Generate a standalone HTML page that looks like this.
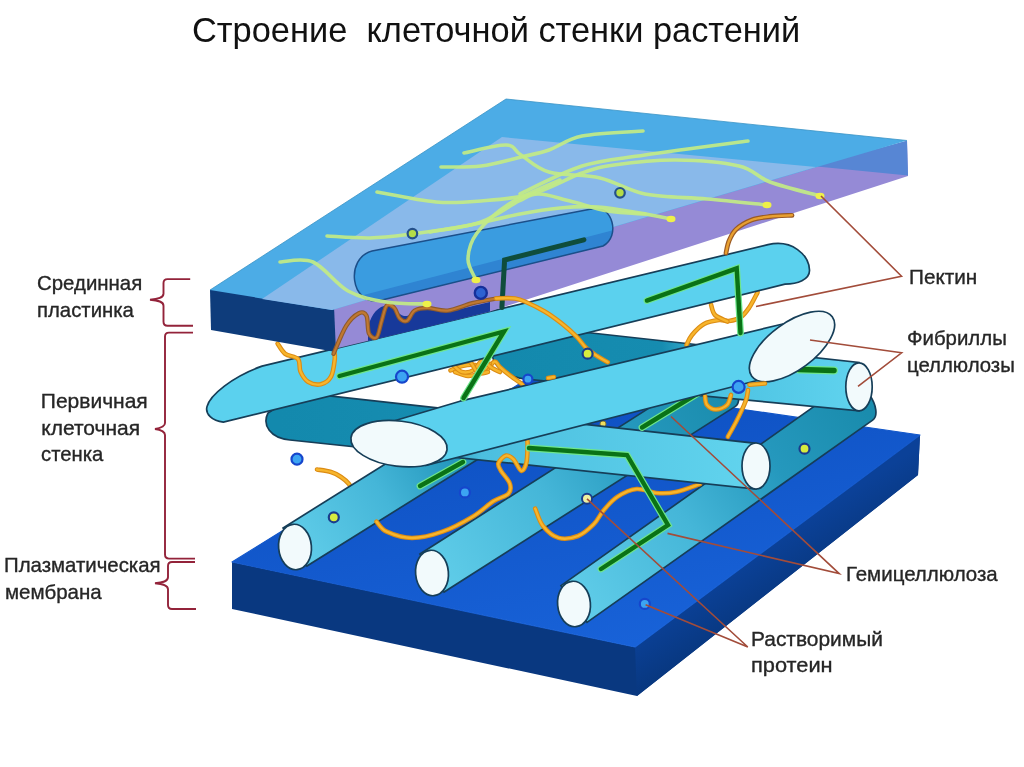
<!DOCTYPE html>
<html><head><meta charset="utf-8"><style>
html,body{margin:0;padding:0;background:#fff;}
body{width:1024px;height:767px;overflow:hidden;position:relative;font-family:"Liberation Sans",sans-serif;}
.t{position:absolute;white-space:pre;color:#262626;font-size:20px;line-height:26px;transform-origin:0 0;-webkit-text-stroke:0.35px #262626;}
svg{position:absolute;left:0;top:0;filter:blur(0.6px);}
.t{filter:blur(0.3px);}
</style></head><body>
<svg width="1024" height="767" viewBox="0 0 1024 767">
<defs><linearGradient id="gfr" gradientUnits="userSpaceOnUse" x1="770" y1="545" x2="800" y2="590"><stop offset="0" stop-color="#0b4198"/><stop offset="1" stop-color="#08377e"/></linearGradient>
<linearGradient id="gslab" gradientUnits="userSpaceOnUse" x1="600" y1="650" x2="560" y2="420"><stop offset="0" stop-color="#1862d8"/><stop offset="1" stop-color="#0f52c4"/></linearGradient>
<linearGradient id="gb0" gradientUnits="userSpaceOnUse" x1="0" y1="0" x2="350" y2="0"><stop offset="0" stop-color="#60cde9"/><stop offset="0.4" stop-color="#45b6d8"/><stop offset="0.7" stop-color="#2598bd"/><stop offset="1" stop-color="#1a8cad"/></linearGradient>
<linearGradient id="gb1" gradientUnits="userSpaceOnUse" x1="0" y1="0" x2="345" y2="0"><stop offset="0" stop-color="#60cde9"/><stop offset="0.4" stop-color="#45b6d8"/><stop offset="0.7" stop-color="#2598bd"/><stop offset="1" stop-color="#1a8cad"/></linearGradient>
<linearGradient id="gb2" gradientUnits="userSpaceOnUse" x1="0" y1="0" x2="255" y2="0"><stop offset="0" stop-color="#60cde9"/><stop offset="0.4" stop-color="#45b6d8"/><stop offset="0.7" stop-color="#2598bd"/><stop offset="1" stop-color="#1a8cad"/></linearGradient>
<linearGradient id="gF" gradientUnits="userSpaceOnUse" x1="500" y1="0" x2="860" y2="0"><stop offset="0" stop-color="#1389ad"/><stop offset="0.45" stop-color="#168cb0"/><stop offset="0.6" stop-color="#4cc2e2"/><stop offset="1" stop-color="#60d3ee"/></linearGradient>
<linearGradient id="gH" gradientUnits="userSpaceOnUse" x1="280" y1="0" x2="760" y2="0"><stop offset="0" stop-color="#1389ad"/><stop offset="0.3" stop-color="#168cb0"/><stop offset="0.42" stop-color="#4cbfdf"/><stop offset="1" stop-color="#62d4ee"/></linearGradient>
<clipPath id="capclip"><path d="M372,251 L594,208.5 C612,205 621,236 603,246 L380,300.5 C350,306 345,258 372,251 Z"/></clipPath></defs>
<polygon points="232.0,562.0 635.0,647.0 920.0,435.0 918.0,475.0 637.0,696.0 232.0,609.0" fill="#093880" />
<polygon points="635.0,647.0 920.0,435.0 918.0,475.0 637.0,696.0" fill="url(#gfr)" />
<polygon points="232.0,562.0 528.0,378.5 920.0,435.0 635.0,647.0" fill="url(#gslab)" stroke="url(#gslab)" stroke-width="1.2" stroke-linejoin="round"/>
<circle cx="297" cy="459.2" r="5.5" fill="#3ca4f2" stroke="#1646cc" stroke-width="2.2"/>
<path d="M317.0,469.5 C319.3,469.9 327.0,470.8 331.0,472.0 C335.0,473.2 338.0,475.0 341.0,477.0 C344.0,479.0 347.2,481.8 349.0,484.0 C350.8,486.2 351.5,489.0 352.0,490.0" fill="none" stroke="#dc8c14" stroke-width="4.6" stroke-linecap="round" stroke-linejoin="round" opacity="1"/>
<path d="M317.0,469.5 C319.3,469.9 327.0,470.8 331.0,472.0 C335.0,473.2 338.0,475.0 341.0,477.0 C344.0,479.0 347.2,481.8 349.0,484.0 C350.8,486.2 351.5,489.0 352.0,490.0" fill="none" stroke="#f7b52c" stroke-width="2.3999999999999995" stroke-linecap="round" stroke-linejoin="round" opacity="1"/>
<path d="M0,-22.5 L350,-22.5 A12,22.5 0 0 1 350,22.5 L0,22.5 Z" transform="translate(574,604) rotate(-35.3)" fill="url(#gb0)" stroke="#163e58" stroke-width="1.7"/>
<ellipse cx="574" cy="604" rx="16.4" ry="22.8" transform="rotate(-5 574 604)" fill="#f2fafc" stroke="#163e58" stroke-width="1.7"/>
<path d="M0,-22.5 L345,-22.5 A12,22.5 0 0 1 345,22.5 L0,22.5 Z" transform="translate(432,573) rotate(-32.5)" fill="url(#gb1)" stroke="#163e58" stroke-width="1.7"/>
<ellipse cx="432" cy="573" rx="16.4" ry="22.8" transform="rotate(-5 432 573)" fill="#f2fafc" stroke="#163e58" stroke-width="1.7"/>
<path d="M0,-22.5 L255,-22.5 A12,22.5 0 0 1 255,22.5 L0,22.5 Z" transform="translate(295,547) rotate(-32)" fill="url(#gb2)" stroke="#163e58" stroke-width="1.7"/>
<ellipse cx="295" cy="547" rx="16.4" ry="22.8" transform="rotate(-5 295 547)" fill="#f2fafc" stroke="#163e58" stroke-width="1.7"/>
<path d="M420.0,486.0 L463.0,462.0" fill="none" stroke="#6ee68c" stroke-width="6.800000000000001" stroke-linecap="round" stroke-linejoin="miter"/>
<path d="M420.0,486.0 L463.0,462.0" fill="none" stroke="#0a7216" stroke-width="4.4" stroke-linecap="round" stroke-linejoin="miter"/>
<path d="M535.2,508.6 C536.5,511.5 539.1,521.1 543.0,526.0 C546.9,530.9 552.8,536.2 558.6,537.9 C564.4,539.6 572.1,538.3 578.0,536.0 C583.9,533.7 589.5,528.5 593.8,524.2 C598.0,520.0 599.6,515.0 603.5,510.5 C607.4,505.9 611.7,500.5 617.2,496.9 C622.7,493.3 630.2,489.6 636.7,489.0 C643.2,488.4 649.7,492.5 656.2,493.0 C662.8,493.5 668.5,493.5 675.8,492.0 C683.1,490.5 696.0,485.3 700.0,484.0" fill="none" stroke="#dc8c14" stroke-width="4.6" stroke-linecap="round" stroke-linejoin="round" opacity="1"/>
<path d="M535.2,508.6 C536.5,511.5 539.1,521.1 543.0,526.0 C546.9,530.9 552.8,536.2 558.6,537.9 C564.4,539.6 572.1,538.3 578.0,536.0 C583.9,533.7 589.5,528.5 593.8,524.2 C598.0,520.0 599.6,515.0 603.5,510.5 C607.4,505.9 611.7,500.5 617.2,496.9 C622.7,493.3 630.2,489.6 636.7,489.0 C643.2,488.4 649.7,492.5 656.2,493.0 C662.8,493.5 668.5,493.5 675.8,492.0 C683.1,490.5 696.0,485.3 700.0,484.0" fill="none" stroke="#f7b52c" stroke-width="2.3999999999999995" stroke-linecap="round" stroke-linejoin="round" opacity="1"/>
<circle cx="333.8" cy="517.3" r="5" fill="#d6ec3e" stroke="#1a3c8c" stroke-width="2.2"/>
<circle cx="464.9" cy="492.4" r="5" fill="#3ca4f2" stroke="#1646cc" stroke-width="2.2"/>
<circle cx="587" cy="498.8" r="5" fill="#eef0a0" stroke="#1a3c8c" stroke-width="2"/>
<circle cx="644.8" cy="603.9" r="5" fill="#3ca4f2" stroke="#1646cc" stroke-width="2.2"/>
<circle cx="804.5" cy="448.7" r="5" fill="#d6ec3e" stroke="#1a3c8c" stroke-width="2.2"/>
<circle cx="603" cy="424" r="3" fill="#f0e060" stroke="#8a7a30" stroke-width="1"/>
<path d="M510,324 L859,362.5 L859,410.8 L525,379 C505,376 492,366 492,352 C492,338 498,325 510,324 Z" fill="url(#gF)" stroke="#163e58" stroke-width="1.7"/>
<ellipse cx="859" cy="386.8" rx="13.2" ry="24" fill="#f2fafc" stroke="#163e58" stroke-width="1.7"/>
<path d="M799.0,369.5 L834.0,370.5" fill="none" stroke="#6ee68c" stroke-width="7.9" stroke-linecap="round" stroke-linejoin="miter"/>
<path d="M799.0,369.5 L834.0,370.5" fill="none" stroke="#0a7216" stroke-width="5.5" stroke-linecap="round" stroke-linejoin="miter"/>
<path d="M300,392.7 L756,443.3 L756,489 L290,440 C270,438 262,425 268,413 Z" fill="url(#gH)" stroke="#163e58" stroke-width="1.7"/>
<ellipse cx="756" cy="466" rx="14" ry="23" fill="#f2fafc" stroke="#163e58" stroke-width="1.7"/>
<path d="M376.5,521.6 C378.2,523.3 380.8,529.0 386.7,531.7 C392.6,534.4 402.7,538.0 412.0,538.0 C421.3,538.0 432.3,535.3 442.5,531.7 C452.7,528.1 464.5,521.6 473.0,516.5 C481.5,511.4 487.4,505.1 493.3,501.3 C499.2,497.5 505.8,496.6 508.5,493.6 C511.2,490.6 511.1,487.3 509.8,483.5 C508.6,479.7 502.9,474.2 501.0,470.8 C499.1,467.4 497.6,465.7 498.4,463.2 C499.2,460.7 503.5,456.2 506.0,455.6 C508.5,455.0 511.1,456.9 513.6,459.4 C516.1,461.9 519.1,470.2 521.2,470.8 C523.3,471.4 525.2,467.4 526.3,463.2 C527.4,459.0 527.5,449.6 527.6,445.4 C527.7,441.2 527.1,439.2 527.0,438.0" fill="none" stroke="#dc8c14" stroke-width="4.6" stroke-linecap="round" stroke-linejoin="round" opacity="1"/>
<path d="M376.5,521.6 C378.2,523.3 380.8,529.0 386.7,531.7 C392.6,534.4 402.7,538.0 412.0,538.0 C421.3,538.0 432.3,535.3 442.5,531.7 C452.7,528.1 464.5,521.6 473.0,516.5 C481.5,511.4 487.4,505.1 493.3,501.3 C499.2,497.5 505.8,496.6 508.5,493.6 C511.2,490.6 511.1,487.3 509.8,483.5 C508.6,479.7 502.9,474.2 501.0,470.8 C499.1,467.4 497.6,465.7 498.4,463.2 C499.2,460.7 503.5,456.2 506.0,455.6 C508.5,455.0 511.1,456.9 513.6,459.4 C516.1,461.9 519.1,470.2 521.2,470.8 C523.3,471.4 525.2,467.4 526.3,463.2 C527.4,459.0 527.5,449.6 527.6,445.4 C527.7,441.2 527.1,439.2 527.0,438.0" fill="none" stroke="#f7b52c" stroke-width="2.3999999999999995" stroke-linecap="round" stroke-linejoin="round" opacity="1"/>
<path d="M529.0,448.0 L627.0,455.0 L668.0,525.0 L601.0,569.0" fill="none" stroke="#6ee68c" stroke-width="6.800000000000001" stroke-linecap="round" stroke-linejoin="miter"/>
<path d="M529.0,448.0 L627.0,455.0 L668.0,525.0 L601.0,569.0" fill="none" stroke="#0a7216" stroke-width="4.4" stroke-linecap="round" stroke-linejoin="miter"/>
<path d="M642.0,427.5 L700.0,392.0" fill="none" stroke="#6ee68c" stroke-width="6.800000000000001" stroke-linecap="round" stroke-linejoin="miter"/>
<path d="M642.0,427.5 L700.0,392.0" fill="none" stroke="#0a7216" stroke-width="4.4" stroke-linecap="round" stroke-linejoin="miter"/>
<path d="M727.8,436.8 C729.2,434.3 733.0,427.9 736.0,422.0 C739.0,416.1 743.6,406.5 745.6,401.2 C747.6,395.9 747.6,391.9 748.0,390.0" fill="none" stroke="#dc8c14" stroke-width="4.6" stroke-linecap="round" stroke-linejoin="round" opacity="1"/>
<path d="M727.8,436.8 C729.2,434.3 733.0,427.9 736.0,422.0 C739.0,416.1 743.6,406.5 745.6,401.2 C747.6,395.9 747.6,391.9 748.0,390.0" fill="none" stroke="#f7b52c" stroke-width="2.3999999999999995" stroke-linecap="round" stroke-linejoin="round" opacity="1"/>
<path d="M705.0,396.0 C705.3,397.5 705.2,402.8 707.0,405.0 C708.8,407.2 712.7,409.5 716.0,409.5 C719.3,409.5 724.5,407.4 727.0,405.0 C729.5,402.6 730.3,396.7 731.0,395.0" fill="none" stroke="#dc8c14" stroke-width="4.6" stroke-linecap="round" stroke-linejoin="round" opacity="1"/>
<path d="M705.0,396.0 C705.3,397.5 705.2,402.8 707.0,405.0 C708.8,407.2 712.7,409.5 716.0,409.5 C719.3,409.5 724.5,407.4 727.0,405.0 C729.5,402.6 730.3,396.7 731.0,395.0" fill="none" stroke="#f7b52c" stroke-width="2.3999999999999995" stroke-linecap="round" stroke-linejoin="round" opacity="1"/>
<path d="M450.5,370.4 C452.4,369.7 457.9,366.9 462.0,366.0 C466.1,365.1 471.0,364.3 475.0,365.0 C479.0,365.7 482.8,370.6 486.0,370.0 C489.2,369.4 492.2,362.1 494.5,361.6 C496.8,361.1 497.2,364.6 499.8,367.0 C502.4,369.4 506.5,372.8 510.3,375.7 C514.1,378.6 520.6,383.0 522.6,384.5" fill="none" stroke="#dc8c14" stroke-width="4.6" stroke-linecap="round" stroke-linejoin="round" opacity="1"/>
<path d="M450.5,370.4 C452.4,369.7 457.9,366.9 462.0,366.0 C466.1,365.1 471.0,364.3 475.0,365.0 C479.0,365.7 482.8,370.6 486.0,370.0 C489.2,369.4 492.2,362.1 494.5,361.6 C496.8,361.1 497.2,364.6 499.8,367.0 C502.4,369.4 506.5,372.8 510.3,375.7 C514.1,378.6 520.6,383.0 522.6,384.5" fill="none" stroke="#f7b52c" stroke-width="2.3999999999999995" stroke-linecap="round" stroke-linejoin="round" opacity="1"/>
<path d="M455.0,372.0 C457.2,372.7 463.8,375.8 468.0,376.0 C472.2,376.2 476.3,375.0 480.0,373.0 C483.7,371.0 488.3,365.5 490.0,364.0" fill="none" stroke="#dc8c14" stroke-width="4.6" stroke-linecap="round" stroke-linejoin="round" opacity="1"/>
<path d="M455.0,372.0 C457.2,372.7 463.8,375.8 468.0,376.0 C472.2,376.2 476.3,375.0 480.0,373.0 C483.7,371.0 488.3,365.5 490.0,364.0" fill="none" stroke="#f7b52c" stroke-width="2.3999999999999995" stroke-linecap="round" stroke-linejoin="round" opacity="1"/>
<path d="M452.0,364.0 C453.7,365.3 458.3,371.0 462.0,372.0 C465.7,373.0 470.7,371.8 474.0,370.0 C477.3,368.2 479.0,361.3 482.0,361.0 C485.0,360.7 489.0,366.2 492.0,368.0 C495.0,369.8 498.7,371.3 500.0,372.0" fill="none" stroke="#dc8c14" stroke-width="4.6" stroke-linecap="round" stroke-linejoin="round" opacity="1"/>
<path d="M452.0,364.0 C453.7,365.3 458.3,371.0 462.0,372.0 C465.7,373.0 470.7,371.8 474.0,370.0 C477.3,368.2 479.0,361.3 482.0,361.0 C485.0,360.7 489.0,366.2 492.0,368.0 C495.0,369.8 498.7,371.3 500.0,372.0" fill="none" stroke="#f7b52c" stroke-width="2.3999999999999995" stroke-linecap="round" stroke-linejoin="round" opacity="1"/>
<path d="M458.0,360.0 C460.0,360.3 466.7,359.8 470.0,362.0 C473.3,364.2 475.0,371.3 478.0,373.0 C481.0,374.7 486.3,372.2 488.0,372.0" fill="none" stroke="#dc8c14" stroke-width="4.6" stroke-linecap="round" stroke-linejoin="round" opacity="1"/>
<path d="M458.0,360.0 C460.0,360.3 466.7,359.8 470.0,362.0 C473.3,364.2 475.0,371.3 478.0,373.0 C481.0,374.7 486.3,372.2 488.0,372.0" fill="none" stroke="#f7b52c" stroke-width="2.3999999999999995" stroke-linecap="round" stroke-linejoin="round" opacity="1"/>
<path d="M757.6,292.3 C756.2,294.8 752.2,303.2 749.4,307.3 C746.6,311.4 744.4,314.7 741.0,317.0 C737.6,319.3 732.7,320.5 729.0,321.0 C725.3,321.5 723.2,319.5 719.0,320.0 C714.8,320.5 708.5,321.5 704.0,324.0 C699.5,326.5 694.9,331.5 692.0,335.0 C689.1,338.5 687.4,343.3 686.5,345.0" fill="none" stroke="#dc8c14" stroke-width="4.6" stroke-linecap="round" stroke-linejoin="round" opacity="1"/>
<path d="M757.6,292.3 C756.2,294.8 752.2,303.2 749.4,307.3 C746.6,311.4 744.4,314.7 741.0,317.0 C737.6,319.3 732.7,320.5 729.0,321.0 C725.3,321.5 723.2,319.5 719.0,320.0 C714.8,320.5 708.5,321.5 704.0,324.0 C699.5,326.5 694.9,331.5 692.0,335.0 C689.1,338.5 687.4,343.3 686.5,345.0" fill="none" stroke="#f7b52c" stroke-width="2.3999999999999995" stroke-linecap="round" stroke-linejoin="round" opacity="1"/>
<path d="M711.0,304.6 C711.7,306.3 712.2,312.2 715.0,315.0 C717.8,317.8 725.4,320.4 727.5,321.5" fill="none" stroke="#dc8c14" stroke-width="4.6" stroke-linecap="round" stroke-linejoin="round" opacity="1"/>
<path d="M711.0,304.6 C711.7,306.3 712.2,312.2 715.0,315.0 C717.8,317.8 725.4,320.4 727.5,321.5" fill="none" stroke="#f7b52c" stroke-width="2.3999999999999995" stroke-linecap="round" stroke-linejoin="round" opacity="1"/>
<polygon points="399.0,443.7 392.0,421.5 460.0,401.2 782.8,324.0 792.0,346.5 760.0,379.7 425.8,465.5" fill="#5bd1ee" stroke="#163e58" stroke-width="1.7" stroke-linejoin="round"/>
<ellipse cx="399" cy="443.7" rx="48.4" ry="22.6" transform="rotate(7 399 443.7)" fill="#f2fafc" stroke="#163e58" stroke-width="1.7"/>
<ellipse cx="792" cy="346.5" rx="50" ry="23.5" transform="rotate(-36.4 792 346.5)" fill="#f2fafc" stroke="#163e58" stroke-width="1.7"/>
<path d="M749.5,384.8 L765.0,383.5" fill="none" stroke="#dc8c14" stroke-width="4.6" stroke-linecap="round" stroke-linejoin="round" opacity="1"/>
<path d="M749.5,384.8 L765.0,383.5" fill="none" stroke="#f7b52c" stroke-width="2.3999999999999995" stroke-linecap="round" stroke-linejoin="round" opacity="1"/>
<circle cx="738.6" cy="386.9" r="6" fill="#3ca4f2" stroke="#1646cc" stroke-width="2.2"/>
<path d="M262,366.1 L768,244.7 C792,239 809,255 809.5,270 C810,280 797,284 785,284.2 L223.4,422.2 C212,421 205,414 207,406.6 C210,395 232,377 262,366.1 Z" fill="#5bd1ee" stroke="#163e58" stroke-width="1.7"/>
<path d="M277.6,343.6 C278.9,345.3 281.8,351.2 285.2,353.8 C288.6,356.4 295.4,356.0 298.0,359.0 C300.6,362.0 298.8,367.8 300.5,371.6 C302.2,375.4 304.6,379.6 308.0,381.7 C311.4,383.8 317.0,385.1 320.8,384.3 C324.6,383.5 328.7,380.9 331.0,376.7 C333.3,372.5 334.3,363.3 334.8,358.9 C335.3,354.4 334.1,351.5 334.0,350.0" fill="none" stroke="#dc8c14" stroke-width="4.6" stroke-linecap="round" stroke-linejoin="round" opacity="1"/>
<path d="M277.6,343.6 C278.9,345.3 281.8,351.2 285.2,353.8 C288.6,356.4 295.4,356.0 298.0,359.0 C300.6,362.0 298.8,367.8 300.5,371.6 C302.2,375.4 304.6,379.6 308.0,381.7 C311.4,383.8 317.0,385.1 320.8,384.3 C324.6,383.5 328.7,380.9 331.0,376.7 C333.3,372.5 334.3,363.3 334.8,358.9 C335.3,354.4 334.1,351.5 334.0,350.0" fill="none" stroke="#f7b52c" stroke-width="2.3999999999999995" stroke-linecap="round" stroke-linejoin="round" opacity="1"/>
<path d="M339.5,376.0 L504.0,331.5 L463.5,398.0" fill="none" stroke="#6ee68c" stroke-width="6.800000000000001" stroke-linecap="round" stroke-linejoin="miter"/>
<path d="M339.5,376.0 L504.0,331.5 L463.5,398.0" fill="none" stroke="#0a7216" stroke-width="4.4" stroke-linecap="round" stroke-linejoin="miter"/>
<path d="M646.9,300.6 L736.7,268.4 L740.5,333.0" fill="none" stroke="#6ee68c" stroke-width="6.800000000000001" stroke-linecap="round" stroke-linejoin="miter"/>
<path d="M646.9,300.6 L736.7,268.4 L740.5,333.0" fill="none" stroke="#0a7216" stroke-width="4.4" stroke-linecap="round" stroke-linejoin="miter"/>
<circle cx="402" cy="376.7" r="6" fill="#3ca4f2" stroke="#1646cc" stroke-width="2.2"/>
<circle cx="527.9" cy="379.2" r="4.5" fill="#3ca4f2" stroke="#1646cc" stroke-width="2.2"/>
<path d="M548.0,378.0 L554.0,377.0" fill="none" stroke="#dc8c14" stroke-width="4.6" stroke-linecap="round" stroke-linejoin="round" opacity="1"/>
<path d="M548.0,378.0 L554.0,377.0" fill="none" stroke="#f7b52c" stroke-width="2.3999999999999995" stroke-linecap="round" stroke-linejoin="round" opacity="1"/>
<polygon points="328.0,306.0 907.0,140.7 908.0,176.0 490.0,311.4 336.0,348.4 333.0,351.0" fill="#958ad6" />
<polygon points="812.0,166.0 907.0,140.7 908.0,175.5" fill="#5786d4" />
<polygon points="210.0,290.0 216.0,288.0 334.0,306.5 336.0,352.0 211.0,330.0" fill="#0e3c7b" />
<polygon points="210.0,290.0 506.0,99.0 907.0,140.5 332.0,310.0" fill="#4cace6" />
<polygon points="502.0,137.0 816.0,167.0 332.0,310.0 262.0,299.0" fill="#89b9ea" />
<path d="M210,290 L506,99 L907,140.5" fill="none" stroke="#3a93c6" stroke-width="1" opacity="0.8"/>
<path d="M372,251 L594,208.5 C612,205 621,236 603,246 L380,300.5 C350,306 345,258 372,251 Z" fill="#3a9ce0"/>
<polygon points="340,301 620,228.5 620,280 340,340" fill="#2f84d2" clip-path="url(#capclip)"/>
<path d="M372,251 L594,208.5 C612,205 621,236 603,246 L380,300.5 C350,306 345,258 372,251 Z" fill="none" stroke="#1b4f8a" stroke-width="1.5"/>
<path d="M501.9,307.5 L504.6,260.0 L583.9,239.8" fill="none" stroke="#0f4d3c" stroke-width="5" stroke-linecap="round" stroke-linejoin="miter"/>
<path d="M368,341 L368,330 C369,318 376,308 384,306 C394,305 398,315 404,316 C410,317 412,311 418,310 C430,308 440,311 452,310 C465,309 475,305 490,302 L490,311.4 L420,328.7 Z" fill="#17399a"/>
<path d="M333.5,353.8 C335.6,349.1 342.0,332.7 346.2,325.9 C350.4,319.1 355.5,314.9 358.9,313.2 C362.3,311.5 364.8,312.3 366.5,315.7 C368.2,319.1 367.3,329.9 369.0,333.5 C370.7,337.1 374.6,339.4 376.7,337.3 C378.8,335.2 380.0,326.1 381.7,320.8 C383.4,315.5 384.7,307.6 386.8,305.5 C388.9,303.4 392.3,305.9 394.4,308.0 C396.5,310.1 397.4,316.1 399.5,318.2 C401.6,320.3 404.6,322.1 407.1,320.8 C409.6,319.5 411.3,312.7 414.7,310.6 C418.1,308.5 421.9,308.0 427.4,308.0 C432.9,308.0 440.2,311.4 447.8,310.6 C455.4,309.8 464.5,305.1 473.2,303.0 C481.9,300.9 495.5,298.8 500.0,298.0" fill="none" stroke="#8e5a2c" stroke-width="4.4" stroke-linecap="round" stroke-linejoin="round" opacity="1"/>
<path d="M333.5,353.8 C335.6,349.1 342.0,332.7 346.2,325.9 C350.4,319.1 355.5,314.9 358.9,313.2 C362.3,311.5 364.8,312.3 366.5,315.7 C368.2,319.1 367.3,329.9 369.0,333.5 C370.7,337.1 374.6,339.4 376.7,337.3 C378.8,335.2 380.0,326.1 381.7,320.8 C383.4,315.5 384.7,307.6 386.8,305.5 C388.9,303.4 392.3,305.9 394.4,308.0 C396.5,310.1 397.4,316.1 399.5,318.2 C401.6,320.3 404.6,322.1 407.1,320.8 C409.6,319.5 411.3,312.7 414.7,310.6 C418.1,308.5 421.9,308.0 427.4,308.0 C432.9,308.0 440.2,311.4 447.8,310.6 C455.4,309.8 464.5,305.1 473.2,303.0 C481.9,300.9 495.5,298.8 500.0,298.0" fill="none" stroke="#c07830" stroke-width="2.2" stroke-linecap="round" stroke-linejoin="round" opacity="1"/>
<path d="M280.0,262.0 C285.5,262.0 301.7,257.2 313.0,262.0 C324.3,266.8 335.8,284.3 348.0,291.0 C360.2,297.7 372.8,299.8 386.0,302.0 C399.2,304.2 420.2,303.7 427.0,304.0" fill="none" stroke="#c2ea86" stroke-width="3.6" stroke-linecap="round" stroke-linejoin="round" opacity="0.92"/>
<path d="M327.0,236.0 C334.2,236.3 355.8,238.3 370.0,238.0 C384.2,237.7 396.2,236.0 412.0,234.0 C427.8,232.0 447.0,229.3 465.0,226.0 C483.0,222.7 504.2,217.0 520.0,214.0 C535.8,211.0 547.0,209.2 560.0,208.0 C573.0,206.8 584.7,206.2 598.0,207.0 C611.3,207.8 627.8,211.0 640.0,213.0 C652.2,215.0 665.8,218.0 671.0,219.0" fill="none" stroke="#c2ea86" stroke-width="3.6" stroke-linecap="round" stroke-linejoin="round" opacity="0.92"/>
<path d="M430.0,232.0 C438.5,230.3 466.2,227.2 481.0,222.0 C495.8,216.8 509.3,205.7 519.0,201.0 C528.7,196.3 530.5,194.0 539.0,194.0 C547.5,194.0 558.5,198.2 570.0,201.0 C581.5,203.8 595.5,208.8 608.0,211.0 C620.5,213.2 638.8,213.5 645.0,214.0" fill="none" stroke="#c2ea86" stroke-width="3.6" stroke-linecap="round" stroke-linejoin="round" opacity="0.92"/>
<path d="M377.0,192.0 C386.8,193.7 418.7,200.5 436.0,202.0 C453.3,203.5 465.0,202.3 481.0,201.0 C497.0,199.7 515.2,198.7 532.0,194.0 C548.8,189.3 568.3,177.8 582.0,173.0 C595.7,168.2 598.3,167.2 614.0,165.0 C629.7,162.8 655.2,159.8 676.0,160.0 C696.8,160.2 723.3,162.3 739.0,166.0 C754.7,169.7 756.5,177.0 770.0,182.0 C783.5,187.0 811.7,193.7 820.0,196.0" fill="none" stroke="#c2ea86" stroke-width="3.6" stroke-linecap="round" stroke-linejoin="round" opacity="0.92"/>
<path d="M441.0,167.0 C447.7,166.8 467.7,167.7 481.0,166.0 C494.3,164.3 509.7,159.7 521.0,157.0 C532.3,154.3 538.8,153.5 549.0,150.0 C559.2,146.5 566.3,139.2 582.0,136.0 C597.7,132.8 632.8,131.8 643.0,131.0" fill="none" stroke="#c2ea86" stroke-width="3.6" stroke-linecap="round" stroke-linejoin="round" opacity="0.92"/>
<path d="M464.0,153.0 C471.0,151.7 496.5,144.7 506.0,145.0 C515.5,145.3 513.8,150.5 521.0,155.0 C528.2,159.5 535.8,168.2 549.0,172.0 C562.2,175.8 584.0,174.3 600.0,178.0 C616.0,181.7 627.2,190.5 645.0,194.0 C662.8,197.5 686.7,197.2 707.0,199.0 C727.3,200.8 757.0,204.0 767.0,205.0" fill="none" stroke="#c2ea86" stroke-width="3.6" stroke-linecap="round" stroke-linejoin="round" opacity="0.92"/>
<path d="M560.0,180.0 C551.5,184.0 522.8,195.2 509.0,204.0 C495.2,212.8 483.8,223.8 477.0,233.0 C470.2,242.2 468.2,251.2 468.0,259.0 C467.8,266.8 474.7,276.5 476.0,280.0" fill="none" stroke="#c2ea86" stroke-width="3.6" stroke-linecap="round" stroke-linejoin="round" opacity="0.92"/>
<path d="M520.0,194.0 C530.3,189.3 561.2,172.5 582.0,166.0 C602.8,159.5 617.3,159.2 645.0,155.0 C672.7,150.8 730.8,143.3 748.0,141.0" fill="none" stroke="#c2ea86" stroke-width="3.6" stroke-linecap="round" stroke-linejoin="round" opacity="0.92"/>
<ellipse cx="427" cy="304" rx="4.5" ry="3.2" fill="#eef04a"/>
<ellipse cx="671" cy="219" rx="4.5" ry="3.2" fill="#eef04a"/>
<ellipse cx="820" cy="196" rx="4.5" ry="3.2" fill="#eef04a"/>
<ellipse cx="767" cy="205" rx="4.5" ry="3.2" fill="#eef04a"/>
<ellipse cx="476" cy="280" rx="4.5" ry="3.2" fill="#eef04a"/>
<circle cx="412.4" cy="233.6" r="4.8" fill="#b4dc48" stroke="#24508a" stroke-width="2.2"/>
<circle cx="620" cy="192.8" r="4.8" fill="#b4dc48" stroke="#24508a" stroke-width="2.2"/>
<circle cx="480.8" cy="292.9" r="6" fill="#2d62d2" stroke="#16309a" stroke-width="2.4"/>
<path d="M792.0,215.3 C788.3,215.5 776.7,215.7 770.0,216.5 C763.3,217.3 757.3,217.8 751.6,220.0 C745.9,222.2 739.8,225.9 736.0,229.4 C732.2,232.9 730.7,237.1 729.0,241.0 C727.3,244.9 726.5,251.0 726.0,253.0" fill="none" stroke="#9a5a24" stroke-width="4.8" stroke-linecap="round" stroke-linejoin="round" opacity="1"/>
<path d="M792.0,215.3 C788.3,215.5 776.7,215.7 770.0,216.5 C763.3,217.3 757.3,217.8 751.6,220.0 C745.9,222.2 739.8,225.9 736.0,229.4 C732.2,232.9 730.7,237.1 729.0,241.0 C727.3,244.9 726.5,251.0 726.0,253.0" fill="none" stroke="#e8a030" stroke-width="2.4" stroke-linecap="round" stroke-linejoin="round" opacity="1"/>
<path d="M496.0,298.5 C497.2,298.4 500.0,298.2 503.2,298.2 C506.4,298.2 511.4,297.9 515.0,298.5 C518.6,299.1 519.8,299.3 524.8,301.5 C529.8,303.7 538.6,307.9 544.7,311.5 C550.8,315.1 556.0,319.0 561.3,323.1 C566.6,327.2 572.1,332.2 576.3,336.4 C580.4,340.5 582.8,344.7 586.2,348.0 C589.7,351.3 593.4,353.6 597.0,356.0 C600.6,358.4 606.0,361.2 607.8,362.2" fill="none" stroke="#dc8c14" stroke-width="4.6" stroke-linecap="round" stroke-linejoin="round" opacity="1"/>
<path d="M496.0,298.5 C497.2,298.4 500.0,298.2 503.2,298.2 C506.4,298.2 511.4,297.9 515.0,298.5 C518.6,299.1 519.8,299.3 524.8,301.5 C529.8,303.7 538.6,307.9 544.7,311.5 C550.8,315.1 556.0,319.0 561.3,323.1 C566.6,327.2 572.1,332.2 576.3,336.4 C580.4,340.5 582.8,344.7 586.2,348.0 C589.7,351.3 593.4,353.6 597.0,356.0 C600.6,358.4 606.0,361.2 607.8,362.2" fill="none" stroke="#f7b52c" stroke-width="2.3999999999999995" stroke-linecap="round" stroke-linejoin="round" opacity="1"/>
<circle cx="587.6" cy="353.7" r="5" fill="#d6ec3e" stroke="#1a3c8c" stroke-width="2.2"/>
<path d="M821.0,196.0 L901.5,276.2 L756.0,306.5" fill="none" stroke="#a24c3a" stroke-width="1.6" stroke-linecap="butt" stroke-linejoin="miter"/>
<path d="M810.0,340.0 L901.6,352.8 L858.0,386.4" fill="none" stroke="#a24c3a" stroke-width="1.6" stroke-linecap="butt" stroke-linejoin="miter"/>
<path d="M671.0,416.5 L839.2,573.6 L667.5,533.4" fill="none" stroke="#a24c3a" stroke-width="1.6" stroke-linecap="butt" stroke-linejoin="miter"/>
<path d="M587.0,498.8 L747.8,647.0 L645.6,604.7" fill="none" stroke="#a24c3a" stroke-width="1.6" stroke-linecap="butt" stroke-linejoin="miter"/>
<path d="M190.2,279.1 L167.5,279.1 Q163.5,279.1 163.5,283.1 L163.5,293.7 C163.5,297.7 158.5,298.9 150,299.7 C158.5,300.5 163.5,301.7 163.5,305.7 L163.5,321.7 Q163.5,325.7 167.5,325.7 L193,325.7" fill="none" stroke="#93233a" stroke-width="1.9"/>
<path d="M193,332.6 L169,332.6 Q165,332.6 165,336.6 L165,423 C165,427 160,428.2 155,429 C160,429.8 165,431 165,435 L165,554.6 Q165,558.6 169,558.6 L195,558.6" fill="none" stroke="#93233a" stroke-width="1.9"/>
<path d="M195,562 L172,562 Q168,562 168,566 L168,577.3 C168,581.3 163,582.5 155,583.3 C163,584.0999999999999 168,585.3 168,589.3 L168,605 Q168,609 172,609 L196,609" fill="none" stroke="#93233a" stroke-width="1.9"/>
</svg>
<div class="t" style="left:192px;top:9px;font-size:34.4px;line-height:40px;color:#111;-webkit-text-stroke:0;transform:scaleY(1.045)">Строение  клеточной стенки растений</div>
<div class="t" style="left:36.6px;top:269.8px;font-size:21px;transform:scaleX(0.9714)">Срединная</div>
<div class="t" style="left:36.6px;top:297.3px;font-size:21px;transform:scaleX(0.9676)">пластинка</div>
<div class="t" style="left:40.8px;top:388.1px;font-size:21px;transform:scaleX(1.0000)">Первичная</div>
<div class="t" style="left:41.3px;top:415.0px;font-size:21px;transform:scaleX(1.0000)">клеточная</div>
<div class="t" style="left:41.3px;top:441.4px;font-size:21px;transform:scaleX(0.9657)">стенка</div>
<div class="t" style="left:4.0px;top:552.4px;font-size:21px;transform:scaleX(0.9714)">Плазматическая</div>
<div class="t" style="left:5.0px;top:579.4px;font-size:21px;transform:scaleX(0.9771)">мембрана</div>
<div class="t" style="left:909.2px;top:263.7px;font-size:21px;transform:scaleX(0.9867)">Пектин</div>
<div class="t" style="left:906.8px;top:324.9px;font-size:21px;transform:scaleX(0.9714)">Фибриллы</div>
<div class="t" style="left:906.8px;top:351.7px;font-size:21px;transform:scaleX(0.9695)">целлюлозы</div>
<div class="t" style="left:846.0px;top:560.9px;font-size:21px;transform:scaleX(0.9752)">Гемицеллюлоза</div>
<div class="t" style="left:750.6px;top:625.7px;font-size:21px;transform:scaleX(0.9962)">Растворимый</div>
<div class="t" style="left:751.3px;top:652.1px;font-size:21px;transform:scaleX(1.0371)">протеин</div>
</body></html>
